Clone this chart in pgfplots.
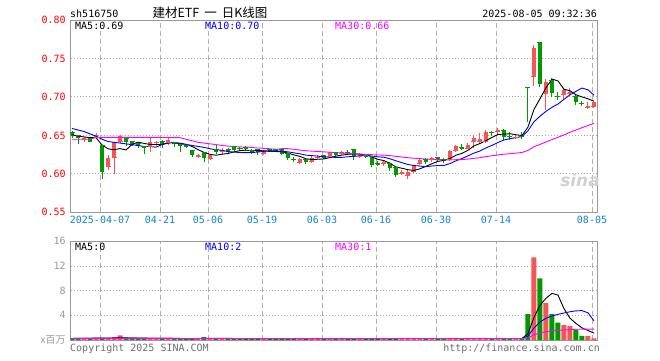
\documentclass[border=0pt]{standalone}
\usepackage{pgfplots}
\pgfplotsset{compat=1.18}
\usepackage{pgfplotstable}
\usepackage{fontspec}
\setmainfont{DejaVu Sans Mono}
\newfontfamily\cjk{Noto Sans CJK SC}
\newfontfamily\logofont{DejaVu Sans}
\definecolor{cred}{RGB}{245,85,85}
\definecolor{cgreen}{RGB}{0,153,0}
\definecolor{framec}{RGB}{153,153,153}
\definecolor{gridc}{RGB}{175,175,175}
\definecolor{datec}{RGB}{20,130,210}
\definecolor{mablue}{RGB}{0,0,255}
\definecolor{mamag}{RGB}{255,0,255}
\definecolor{txtgray}{RGB}{110,110,110}

\pgfplotstableread{
i O H L C V
2 0.645 0.648 0.641 0.647 0.20
4 0.647 0.653 0.646 0.651 0.25
6 0.610 0.624 0.605 0.621 0.25
7 0.621 0.642 0.600 0.641 0.30
8 0.642 0.651 0.641 0.649 0.75
13 0.636 0.646 0.628 0.642 0.25
14 0.641 0.643 0.636 0.642 0.20
16 0.641 0.646 0.638 0.644 0.20
21 0.623 0.626 0.621 0.624 0.20
23 0.620 0.625 0.618 0.624 0.25
25 0.629 0.633 0.624 0.631 0.20
32 0.626 0.631 0.625 0.630 0.20
38 0.615 0.620 0.613 0.619 0.20
40 0.616 0.624 0.614 0.621 0.20
41 0.621 0.625 0.619 0.622 0.20
43 0.623 0.629 0.622 0.628 0.20
45 0.626 0.630 0.625 0.628 0.20
48 0.623 0.627 0.621 0.625 0.20
52 0.613 0.617 0.610 0.615 0.20
55 0.600 0.605 0.598 0.603 0.20
56 0.598 0.605 0.593 0.603 0.25
57 0.603 0.612 0.601 0.610 0.25
58 0.613 0.620 0.611 0.618 0.25
60 0.618 0.622 0.616 0.620 0.20
63 0.619 0.631 0.617 0.630 0.30
64 0.630 0.638 0.628 0.636 0.25
66 0.633 0.640 0.632 0.638 0.25
67 0.642 0.650 0.633 0.646 0.25
68 0.642 0.653 0.641 0.645 0.20
69 0.642 0.657 0.641 0.655 0.30
71 0.655 0.659 0.652 0.657 0.20
74 0.647 0.650 0.645 0.648 0.20
77 0.726 0.767 0.714 0.763 13.4
79 0.705 0.723 0.683 0.719 6.0
82 0.703 0.712 0.696 0.709 2.4
83 0.705 0.711 0.700 0.707 2.3
86 0.686 0.693 0.684 0.688 0.65
87 0.688 0.694 0.686 0.693 0.25
}\upT

\pgfplotstableread{
i O H L C V
0 0.654 0.656 0.646 0.649 0.30
1 0.650 0.651 0.639 0.646 0.25
3 0.646 0.647 0.641 0.642 0.20
5 0.637 0.637 0.593 0.602 0.35
9 0.646 0.646 0.636 0.642 0.25
10 0.642 0.643 0.636 0.638 0.20
11 0.639 0.640 0.633 0.636 0.20
12 0.636 0.636 0.626 0.633 0.20
15 0.642 0.644 0.634 0.638 0.20
17 0.641 0.642 0.635 0.639 0.20
18 0.638 0.639 0.629 0.636 0.20
19 0.637 0.638 0.633 0.635 0.20
20 0.630 0.631 0.622 0.624 0.25
22 0.628 0.629 0.615 0.620 0.45
24 0.632 0.638 0.626 0.629 0.20
26 0.632 0.633 0.626 0.628 0.20
27 0.635 0.636 0.630 0.631 0.20
28 0.633 0.635 0.630 0.632 0.20
29 0.634 0.636 0.630 0.632 0.20
30 0.630 0.632 0.626 0.627 0.20
31 0.631 0.631 0.624 0.629 0.20
33 0.631 0.632 0.628 0.629 0.20
34 0.631 0.632 0.629 0.630 0.20
35 0.631 0.633 0.624 0.626 0.20
36 0.626 0.627 0.618 0.620 0.25
37 0.619 0.622 0.615 0.618 0.20
39 0.619 0.620 0.613 0.615 0.20
42 0.624 0.625 0.619 0.620 0.20
44 0.628 0.629 0.623 0.624 0.20
46 0.628 0.631 0.624 0.627 0.20
47 0.631 0.632 0.618 0.623 0.25
49 0.624 0.626 0.620 0.622 0.20
50 0.622 0.623 0.609 0.612 0.25
51 0.614 0.617 0.610 0.612 0.20
53 0.614 0.616 0.604 0.607 0.25
54 0.608 0.609 0.596 0.599 0.25
59 0.619 0.620 0.613 0.615 0.20
61 0.621 0.622 0.616 0.618 0.20
62 0.619 0.620 0.614 0.617 0.20
65 0.634 0.639 0.631 0.632 0.20
70 0.654 0.656 0.649 0.653 0.20
72 0.657 0.658 0.644 0.648 0.25
73 0.649 0.654 0.644 0.648 0.20
75 0.649 0.654 0.645 0.648 0.20
76 0.712 0.712 0.668 0.712 4.2
78 0.771 0.771 0.713 0.717 10.0
80 0.721 0.725 0.700 0.705 4.2
81 0.701 0.707 0.696 0.700 2.8
84 0.701 0.704 0.690 0.693 1.7
85 0.692 0.695 0.688 0.691 0.65
}\dnT

\pgfplotstableread{
i m5 m10 m30
0 0.651 0.659 0.645
1 0.649 0.657 0.645
2 0.648 0.655 0.645
3 0.647 0.652 0.645
4 0.6470 0.649 0.6475
5 0.6376 0.645 0.6475
6 0.6326 0.642 0.6475
7 0.6314 0.641 0.6475
8 0.6328 0.640 0.6475
9 0.6310 0.6390 0.6475
10 0.6382 0.6379 0.6475
11 0.6412 0.6369 0.6475
12 0.6396 0.6355 0.6475
13 0.6382 0.6355 0.6475
14 0.6382 0.6346 0.6474
15 0.6382 0.6382 0.6473
16 0.6398 0.6405 0.6472
17 0.6410 0.6403 0.6471
18 0.6398 0.6390 0.6470
19 0.6384 0.6383 0.6450
20 0.6356 0.6369 0.6430
21 0.6316 0.6357 0.6410
22 0.6278 0.6344 0.6400
23 0.6254 0.6326 0.6390
24 0.6242 0.6313 0.6380
25 0.6256 0.6306 0.6370
26 0.6264 0.6290 0.6360
27 0.6286 0.6282 0.6355
28 0.6302 0.6278 0.6350
29 0.6308 0.6275 0.6349
30 0.6300 0.6278 0.6342
31 0.6302 0.6283 0.6336
32 0.6300 0.6293 0.6331
33 0.6294 0.6298 0.6326
34 0.6290 0.6299 0.6319
35 0.6288 0.6294 0.6327
36 0.6270 0.6286 0.6327
37 0.6246 0.6273 0.6319
38 0.6226 0.6260 0.6309
39 0.6196 0.6243 0.6300
40 0.6186 0.6237 0.6295
41 0.6190 0.6230 0.6290
42 0.6194 0.6220 0.6286
43 0.6212 0.6219 0.6281
44 0.6230 0.6213 0.6275
45 0.6244 0.6215 0.6272
46 0.6254 0.6222 0.6266
47 0.6260 0.6227 0.6261
48 0.6254 0.6233 0.6257
49 0.6250 0.6240 0.6253
50 0.6218 0.6231 0.6249
51 0.6188 0.6221 0.6245
52 0.6172 0.6216 0.6243
53 0.6136 0.6195 0.6237
54 0.6090 0.6170 0.6227
55 0.6072 0.6145 0.6218
56 0.6054 0.6121 0.6210
57 0.6044 0.6108 0.6203
58 0.6066 0.6101 0.6198
59 0.6098 0.6094 0.6192
60 0.6132 0.6102 0.6190
61 0.6162 0.6108 0.6186
62 0.6176 0.6110 0.6182
63 0.6200 0.6133 0.6182
64 0.6242 0.6170 0.6184
65 0.6266 0.6199 0.6186
66 0.6306 0.6234 0.6192
67 0.6364 0.6270 0.6202
68 0.6394 0.6297 0.6210
69 0.6432 0.6337 0.6224
70 0.6474 0.6370 0.6234
71 0.6512 0.6409 0.6246
72 0.6516 0.6440 0.6255
73 0.6522 0.6458 0.6262
74 0.6508 0.6470 0.6270
75 0.6498 0.6486 0.6277
76 0.6608 0.6560 0.6305
77 0.6838 0.6677 0.6352
78 0.6976 0.6749 0.6382
79 0.7118 0.6813 0.6415
80 0.7232 0.6865 0.6446
81 0.7208 0.6908 0.6475
82 0.7100 0.6969 0.6506
83 0.7080 0.7028 0.6540
84 0.7028 0.7073 0.6571
85 0.7000 0.7116 0.6600
86 0.6976 0.7092 0.6629
87 0.6944 0.7022 0.6656
}\maP

\pgfplotstableread{
i v5 v10 v30
0 0.25 0.25 0.25
8 0.35 0.30 0.26
12 0.30 0.29 0.26
20 0.22 0.24 0.25
24 0.28 0.25 0.25
30 0.22 0.24 0.24
75 0.25 0.25 0.25
76 1.04 0.645 0.382
77 3.67 1.96 0.82
78 5.62 2.935 1.145
79 6.77 3.51 1.337
80 7.56 3.905 1.468
81 7.28 4.16 1.553
82 5.08 4.375 1.625
83 3.54 4.58 1.693
84 2.68 4.725 1.742
85 1.97 4.765 1.755
86 1.54 4.41 1.768
87 1.11 3.095 1.768
}\maV

\pgfplotsset{kbase/.style={
  scale only axis, width=527pt, anchor=south west,
  xmin=-0.217, xmax=87.62,
  axis line style={draw=framec, line width=1pt},
  xtick={4.67,14.67,22.67,31.67,41.67,50.67,60.67,70.67,86.67},
  major tick length=0pt, tick style={draw=none},
  xmajorgrids, ymajorgrids,
  x grid style={draw=gridc, dash pattern=on 5pt off 3pt, line width=0.9pt},
  y grid style={draw=gridc, dash pattern=on 1pt off 2pt, line width=0.9pt},
  /pgf/number format/assume math mode=true,
  tick label style={font=\fontsize{10}{12}\selectfont},
}}

\begin{document}
\begin{tikzpicture}
\path[use as bounding box] (0,0) rectangle (660pt,360pt);

\begin{axis}[kbase, at={(70.7pt,147.7pt)}, height=192.3pt,
  ymin=0.55, ymax=0.80,
  ytick={0.55,0.60,0.65,0.70,0.75,0.80},
  yticklabel style={text=red, xshift=-1.5pt, /pgf/number format/.cd, fixed, fixed zerofill, precision=2},
  xticklabels={2025-04-07,04-21,05-06,05-19,06-03,06-16,06-30,07-14,08-05},
  xticklabel style={text=datec}]
% wicks
\addplot[draw=none, mark=none, forget plot,
  error bars/.cd, y dir=both, y explicit, error mark=none,
  error bar style={draw=cred, line width=1pt}]
  table[x=i, y=O, y error plus expr=\thisrow{H}-\thisrow{O}, y error minus expr=\thisrow{O}-\thisrow{L}] {\upT};
\addplot[draw=none, mark=none, forget plot,
  error bars/.cd, y dir=both, y explicit, error mark=none,
  error bar style={draw=cgreen, line width=1pt}]
  table[x=i, y=O, y error plus expr=\thisrow{H}-\thisrow{O}, y error minus expr=\thisrow{O}-\thisrow{L}] {\dnT};
% bodies
\addplot[only marks, mark=-, mark size=2.5pt, mark options={draw=cred, line width=1pt}, forget plot,
  error bars/.cd, y dir=plus, y explicit, error mark=none,
  error bar style={draw=cred, line width=4.6pt, line cap=butt}]
  table[x=i, y=O, y error plus expr=\thisrow{C}-\thisrow{O}] {\upT};
\addplot[only marks, mark=-, mark size=2.5pt, mark options={draw=cgreen, line width=1pt}, forget plot,
  error bars/.cd, y dir=minus, y explicit, error mark=none,
  error bar style={draw=cgreen, line width=4.6pt, line cap=butt}]
  table[x=i, y=O, y error minus expr=\thisrow{O}-\thisrow{C}] {\dnT};
% moving averages
\addplot[black, line width=0.9pt, mark=none] table[x=i, y=m5] {\maP};
\addplot[mablue, line width=0.9pt, mark=none] table[x=i, y=m10] {\maP};
\addplot[mamag, line width=0.9pt, mark=none] table[x=i, y=m30] {\maP};
\end{axis}

\begin{axis}[kbase, at={(70.7pt,20pt)}, height=98.7pt,
  ymin=0, ymax=16, ytick={0,4,8,12,16},
  yticklabels={{\cjk x百万},4,8,12,16},
  yticklabel style={text=framec, xshift=-1.5pt},
  xticklabels={}]
\addplot[ybar, bar width=5pt, bar shift=0pt, fill=cred, draw=none] table[x=i, y=V] {\upT};
\addplot[ybar, bar width=5pt, bar shift=0pt, fill=cgreen, draw=none] table[x=i, y=V] {\dnT};
\addplot[black, line width=0.9pt, mark=none] table[x=i, y=v5] {\maV};
\addplot[mablue, line width=0.9pt, mark=none] table[x=i, y=v10] {\maV};
\addplot[mamag, line width=0.9pt, mark=none] table[x=i, y=v30] {\maV};
\end{axis}

% header texts
\node[anchor=base west, inner sep=0] at (70pt,343pt) {sh516750};
\node[anchor=base, inner sep=0] at (210pt,343pt) {\cjk\fontsize{12.5}{14}\selectfont 建材ETF\hspace{5pt}一\hspace{5pt}日K线图};
\node[anchor=base east, inner sep=0] at (597pt,343pt) {2025-08-05 09:32:36};
% price MA labels
\node[anchor=base west, inner sep=0] at (75pt,330.7pt) {MA5:0.69};
\node[anchor=base west, inner sep=0, text=mablue] at (205pt,330.7pt) {MA10:0.70};
\node[anchor=base west, inner sep=0, text=mamag] at (335pt,330.7pt) {MA30:0.66};
% volume MA labels
\node[anchor=base west, inner sep=0] at (75pt,109.7pt) {MA5:0};
\node[anchor=base west, inner sep=0, text=mablue] at (205pt,109.7pt) {MA10:2};
\node[anchor=base west, inner sep=0, text=mamag] at (335pt,109.7pt) {MA30:1};
% footer
\node[anchor=base west, inner sep=0, text=txtgray] at (70pt,9pt) {Copyright 2025 SINA.COM};
\node[anchor=base east, inner sep=0, text=txtgray] at (600pt,9pt) {http://finance.sina.com.cn};
% watermark
\node[inner sep=0, text=black!18] at (580pt,180pt) {\logofont\bfseries\itshape\fontsize{17}{18}\selectfont sina};
\end{tikzpicture}
\end{document}
